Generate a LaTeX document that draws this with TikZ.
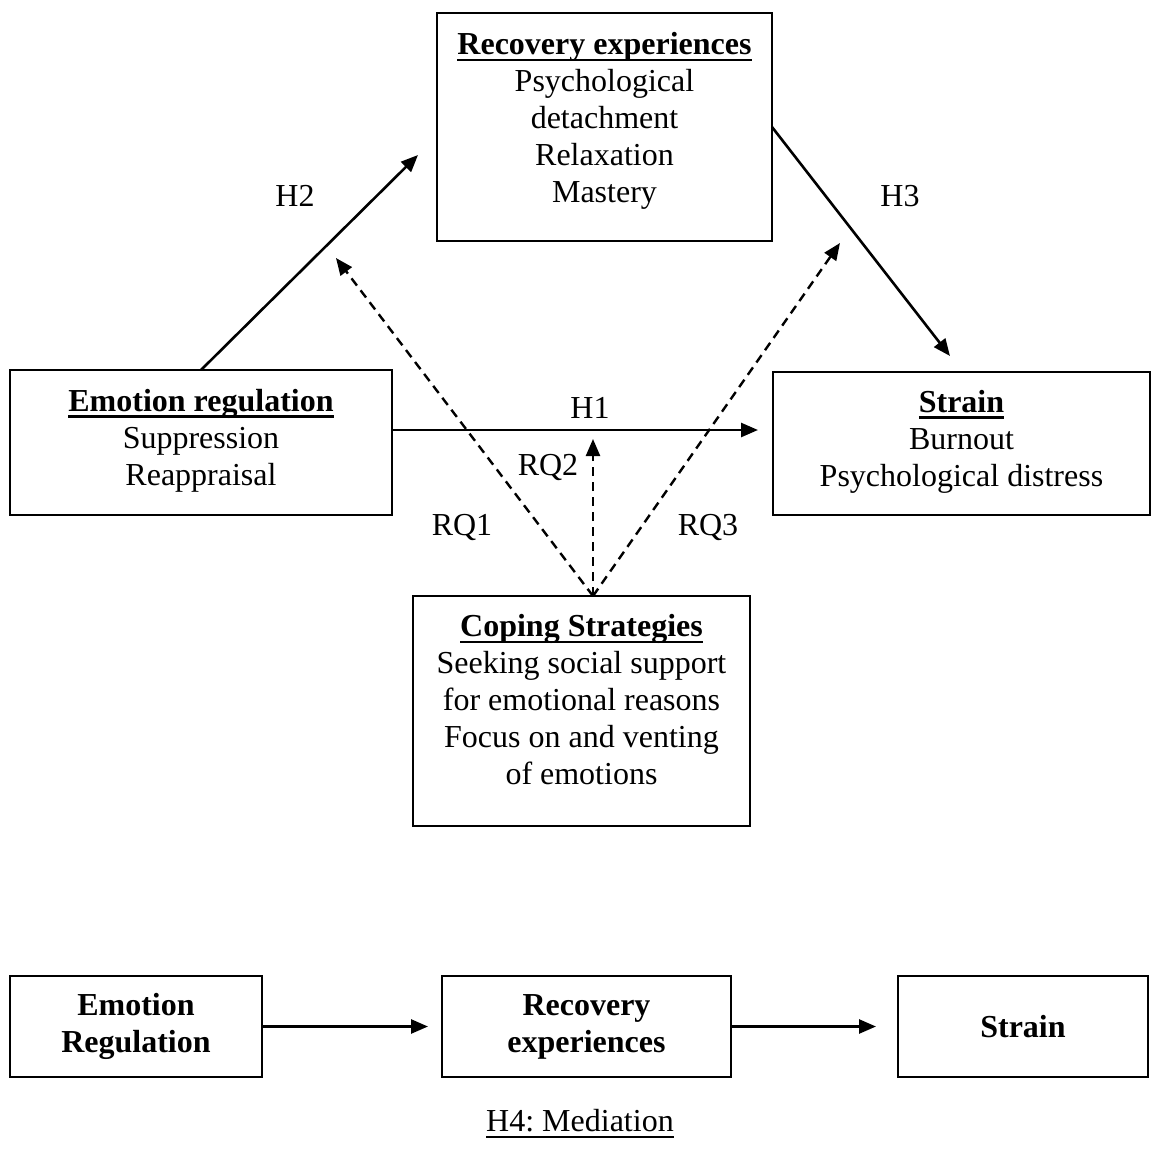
\documentclass[tikz,border=0pt]{standalone}
\usepackage{fontspec}
\setmainfont{Liberation Serif}
\usetikzlibrary{arrows.meta}

\newcommand\undl[1]{\setbox0\hbox{#1}\rlap{\rule[-6.5pt]{\wd0}{2.6pt}}\box0}

\tikzset{
    box/.style = {draw, line width=2pt, inner sep=0pt, outer sep=0pt},
    arr/.style = {line width=2.6pt, -{Triangle[length=17pt,width=14pt]}},
    darr/.style = {line width=2.4pt, dash pattern=on 9pt off 6pt, -{Triangle[length=17pt,width=14pt]}}
}

\begin{document}
\begin{tikzpicture}[x=1pt, y=-1pt, font=\fontsize{32}{37}\selectfont]

        \useasboundingbox (0,0) rectangle (1151,1163);

        % model
        \node[box, minimum width=335pt, minimum height=228pt,
              label={[align=center, yshift=6pt]center:\undl{\textbf{Recovery experiences}}\\Psychological\\detachment\\Relaxation\\Mastery}]
              (rec) at (604.5,127) {};
        \node[box, minimum width=382pt, minimum height=145pt,
              label={[align=center, yshift=2pt]center:\undl{\textbf{Emotion regulation}}\\Suppression\\Reappraisal}]
              (emo) at (201,442.5) {};
        \node[box, minimum width=377pt, minimum height=143pt,
              label={[align=center, yshift=2pt]center:\undl{\textbf{Strain}}\\Burnout\\Psychological distress}]
              (strain) at (961.5,443.5) {};
        \node[box, minimum width=337pt, minimum height=230pt,
              label={[align=center, yshift=11pt]center:\undl{\textbf{Coping Strategies}}\\Seeking social support\\for emotional reasons\\Focus on and venting\\of emotions}]
              (cope) at (581.5,711) {};

        \coordinate (meet) at ([xshift=11.5pt]cope.north);
        \coordinate (rqone) at (336,258);
        \coordinate (rqtwo) at (593,439);
        \coordinate (rqthree) at (840,243);

        \draw[arr] (emo.north) -- ([xshift=-19pt,yshift=-28pt]rec.west);
        \draw[arr] (rec.east) -- ([xshift=-11.5pt,yshift=16pt]strain.north);
        \draw[arr] ([yshift=12.5pt]emo.east) -- ([xshift=-15pt,yshift=13.5pt]strain.west);

        \draw[darr] (meet) -- (rqone);
        \draw[darr] (meet) -- (rqtwo);
        \draw[darr] (meet) -- (rqthree);

        \node (lhtwo) at (295,196) {H2};
        \node (lhthree) at (900,196) {H3};
        \node (lhone) at (590,408) {H1};
        \node (lrqtwo) at (548,467) {RQ2};
        \node (lrqone) at (462,527) {RQ1};
        \node (lrqthree) at (708,527) {RQ3};

        % mediation
        \node[box, minimum width=252pt, minimum height=101pt, align=center] (medemo) at (136,1026.5) {\textbf{Emotion}\\\textbf{Regulation}};
        \node[box, minimum width=289pt, minimum height=101pt, align=center] (medrec) at (586.5,1026.5) {\textbf{Recovery}\\\textbf{experiences}};
        \node[box, minimum width=250pt, minimum height=101pt] (medstrain) at (1023,1026.5) {\textbf{Strain}};

        \draw[arr] (medemo.east) -- ([xshift=-14pt]medrec.west);
        \draw[arr] (medrec.east) -- ([xshift=-22pt]medstrain.west);

        \node (hfour) at (580,1124) {\undl{H4:\ Mediation}};

\end{tikzpicture}
\end{document}
